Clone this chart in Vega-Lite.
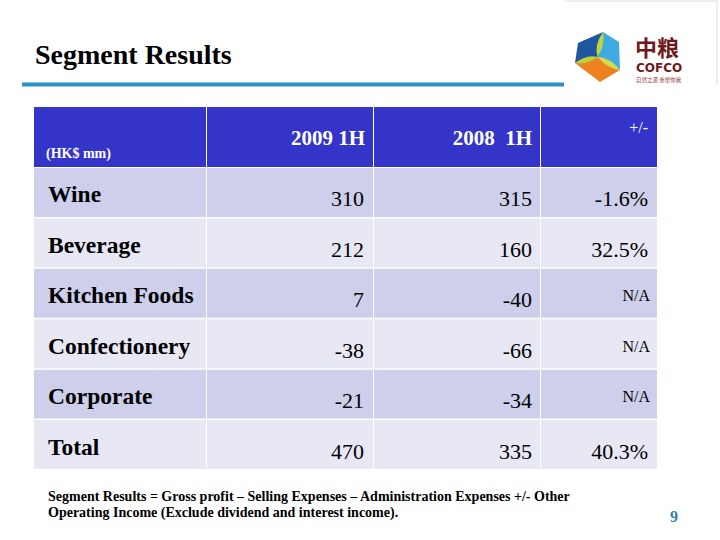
{
  "$schema": "https://vega.github.io/schema/vega-lite/v6.json",
  "background": "white",
  "padding": {"left": 20, "top": 0, "right": 0, "bottom": 0},
  "config": {
    "view": {"stroke": null},
    "font": "Liberation Serif",
    "locale": {"number": {"decimal": ".", "thousands": ",", "grouping": [3], "currency": ["$", ""], "minus": "-"}}
  },
  "datasets": {
    "segments": [
      {"segment": "Wine", "h2009": 310, "h2008": 315, "change": -0.016},
      {"segment": "Beverage", "h2009": 212, "h2008": 160, "change": 0.325},
      {"segment": "Kitchen Foods", "h2009": 7, "h2008": -40, "change": null},
      {"segment": "Confectionery", "h2009": -38, "h2008": -66, "change": null},
      {"segment": "Corporate", "h2009": -21, "h2008": -34, "change": null},
      {"segment": "Total", "h2009": 470, "h2008": 335, "change": 0.403}
    ],
    "headers": [
      {"col": "segment", "title": "(HK$ mm)"},
      {"col": "h2009", "title": "2009 1H"},
      {"col": "h2008", "title": "2008\u00a0 1H"},
      {"col": "change", "title": "+/-"}
    ],
    "slide": [
      {"title": "Segment Results", "note1": "Segment Results = Gross profit \u2013 Selling Expenses \u2013 Administration Expenses +/- Other", "note2": "Operating Income (Exclude dividend and interest income).", "page": "9"}
    ]
  },
  "spacing": 0,
  "vconcat": [
    {
      "width": 700,
      "height": 107,
      "data": {"name": "slide"},
      "layer": [
        {"mark": {"type": "text", "align": "left", "baseline": "alphabetic", "font": "Liberation Serif", "fontWeight": "bold", "fontSize": 28, "color": "#000000"},
         "encoding": {"x": {"value": 15}, "y": {"value": 64}, "text": {"field": "title"}}},
        {"mark": {"type": "rule", "color": "#2A93C1", "strokeWidth": 4},
         "encoding": {"x": {"value": 2}, "x2": {"value": 544}, "y": {"value": 84.5}}},
        {"mark": {"type": "rule", "color": "#DCDCDC", "strokeWidth": 1},
         "encoding": {"x": {"value": 545}, "x2": {"value": 697}, "y": {"value": 1}}},
        {"mark": {"type": "rule", "color": "#DCDCDC", "strokeWidth": 1},
         "encoding": {"x": {"value": 697}, "y": {"value": 1}, "y2": {"value": 85}}},
        {"mark": {"type": "point", "filled": true, "opacity": 1, "size": 2500, "strokeWidth": 0, "fill": "#1F56A2", "shape": "M0.24,-1 L-0.76,-0.56 L-0.88,0.24 L0.02,0 Z"},
         "encoding": {"x": {"value": 577}, "y": {"value": 57}}},
        {"mark": {"type": "point", "filled": true, "opacity": 1, "size": 2500, "strokeWidth": 0, "fill": "#3FAAE3", "shape": "M0.24,-1 L0.02,0 L0.92,0.52 L0.88,-0.6 Z"},
         "encoding": {"x": {"value": 577}, "y": {"value": 57}}},
        {"mark": {"type": "point", "filled": true, "opacity": 1, "size": 2500, "strokeWidth": 0, "fill": "#EE8220", "shape": "M-0.88,0.24 L0.12,1 L0.92,0.52 L0.02,0 Z"},
         "encoding": {"x": {"value": 577}, "y": {"value": 57}}},
        {"mark": {"type": "point", "filled": true, "opacity": 1, "size": 2500, "strokeWidth": 0, "fill": "#C2D63A", "shape": "M0.02,0 Q0.34,-0.5 0.24,-1 Q-0.12,-0.5 0.02,0 Z"},
         "encoding": {"x": {"value": 577}, "y": {"value": 57}}},
        {"mark": {"type": "point", "filled": true, "opacity": 1, "size": 2500, "strokeWidth": 0, "fill": "#B9D13A", "shape": "M0.02,0 Q-0.4,-0.12 -0.88,0.24 Q-0.4,0.32 0.02,0 Z"},
         "encoding": {"x": {"value": 577}, "y": {"value": 57}}},
        {"mark": {"type": "point", "filled": true, "opacity": 1, "size": 2500, "strokeWidth": 0, "fill": "#D5DC4A", "shape": "M0.02,0 Q0.52,0.02 0.92,0.52 Q0.4,0.46 0.02,0 Z"},
         "encoding": {"x": {"value": 577}, "y": {"value": 57}}},
        {"mark": {"type": "text", "text": "\u4e2d\u7cae", "align": "left", "baseline": "alphabetic", "font": "Noto Sans CJK SC", "fontWeight": "bold", "fontSize": 22, "color": "#6E1A1A"},
         "encoding": {"x": {"value": 615}, "y": {"value": 56}}},
        {"mark": {"type": "text", "text": "COFCO", "align": "left", "baseline": "alphabetic", "font": "DejaVu Sans", "fontWeight": "bold", "fontSize": 12, "color": "#6E1A1A"},
         "encoding": {"x": {"value": 616}, "y": {"value": 72}}},
        {"mark": {"type": "text", "text": "\u81ea\u7136\u4e4b\u6e90 \u91cd\u5851\u4f60\u6211", "align": "left", "baseline": "alphabetic", "font": "Noto Sans CJK SC", "fontSize": 5.5, "color": "#9A3A3A"},
         "encoding": {"x": {"value": 616}, "y": {"value": 82}}}
      ]
    },
    {
      "spacing": 1,
      "hconcat": [
        {
          "width": 13, "height": 362,
          "data": {"values": [{}]},
          "mark": {"type": "rect", "opacity": 0},
          "encoding": {"x": {"value": 0}, "x2": {"value": "width"}, "y": {"value": 0}, "y2": {"value": "height"}}
        },
        {
          "spacing": 1,
          "vconcat": [
            {
              "width": 172, "height": 60,
              "view": {"fill": "#3434C8"},
              "data": {"name": "headers"},
              "transform": [{"filter": "datum.col == 'segment'"}],
              "mark": {"type": "text", "align": "left", "baseline": "alphabetic", "font": "Liberation Serif", "fontWeight": "bold", "fontSize": 14, "color": "#FFFFFF"},
              "encoding": {"x": {"value": 12}, "y": {"value": 51}, "text": {"field": "title"}}
            },
            {
              "width": 172, "height": 301,
              "data": {"name": "segments"},
              "transform": [{"window": [{"op": "row_number", "as": "row"}]}],
              "encoding": {"y": {"field": "segment", "type": "nominal", "sort": null, "axis": null, "scale": {"paddingInner": 0.03, "paddingOuter": 0}}},
              "layer": [
                {"mark": {"type": "rect"},
                 "encoding": {"x": {"value": 0}, "x2": {"value": "width"},
                              "fill": {"condition": {"test": "datum.row % 2 == 1", "value": "#CDCFEB"}, "value": "#E8E8F5"}}},
                {"mark": {"type": "text", "align": "left", "baseline": "alphabetic", "dx": 14, "dy": 10, "font": "Liberation Serif", "fontWeight": "bold", "fontSize": 23.5, "color": "#000000"},
                 "encoding": {"x": {"value": 0}, "text": {"field": "segment", "type": "nominal"}}}
              ]
            }
          ]
        },
        {
          "spacing": 1,
          "vconcat": [
            {
              "width": 166, "height": 60,
              "view": {"fill": "#3434C8"},
              "data": {"name": "headers"},
              "transform": [{"filter": "datum.col == 'h2009'"}],
              "mark": {"type": "text", "align": "right", "baseline": "alphabetic", "dx": -8, "font": "Liberation Serif", "fontWeight": "bold", "fontSize": 21, "color": "#FFFFFF"},
              "encoding": {"x": {"value": "width"}, "y": {"value": 38}, "text": {"field": "title"}}
            },
            {
              "width": 166, "height": 301,
              "data": {"name": "segments"},
              "transform": [{"window": [{"op": "row_number", "as": "row"}]}],
              "encoding": {"y": {"field": "segment", "type": "nominal", "sort": null, "axis": null, "scale": {"paddingInner": 0.03, "paddingOuter": 0}}},
              "layer": [
                {"mark": {"type": "rect"},
                 "encoding": {"x": {"value": 0}, "x2": {"value": "width"},
                              "fill": {"condition": {"test": "datum.row % 2 == 1", "value": "#CDCFEB"}, "value": "#E8E8F5"}}},
                {"mark": {"type": "text", "align": "right", "baseline": "alphabetic", "dx": -9, "dy": 14, "font": "Liberation Serif", "fontSize": 22, "color": "#000000"},
                 "encoding": {"x": {"value": "width"}, "text": {"field": "h2009", "type": "quantitative", "format": "d"}}}
              ]
            }
          ]
        },
        {
          "spacing": 1,
          "vconcat": [
            {
              "width": 166, "height": 60,
              "view": {"fill": "#3434C8"},
              "data": {"name": "headers"},
              "transform": [{"filter": "datum.col == 'h2008'"}],
              "mark": {"type": "text", "align": "right", "baseline": "alphabetic", "dx": -8, "font": "Liberation Serif", "fontWeight": "bold", "fontSize": 21, "color": "#FFFFFF"},
              "encoding": {"x": {"value": "width"}, "y": {"value": 38}, "text": {"field": "title"}}
            },
            {
              "width": 166, "height": 301,
              "data": {"name": "segments"},
              "transform": [{"window": [{"op": "row_number", "as": "row"}]}],
              "encoding": {"y": {"field": "segment", "type": "nominal", "sort": null, "axis": null, "scale": {"paddingInner": 0.03, "paddingOuter": 0}}},
              "layer": [
                {"mark": {"type": "rect"},
                 "encoding": {"x": {"value": 0}, "x2": {"value": "width"},
                              "fill": {"condition": {"test": "datum.row % 2 == 1", "value": "#CDCFEB"}, "value": "#E8E8F5"}}},
                {"mark": {"type": "text", "align": "right", "baseline": "alphabetic", "dx": -8, "dy": 14, "font": "Liberation Serif", "fontSize": 22, "color": "#000000"},
                 "encoding": {"x": {"value": "width"}, "text": {"field": "h2008", "type": "quantitative", "format": "d"}}}
              ]
            }
          ]
        },
        {
          "spacing": 1,
          "vconcat": [
            {
              "width": 116, "height": 60,
              "view": {"fill": "#3434C8"},
              "data": {"name": "headers"},
              "transform": [{"filter": "datum.col == 'change'"}],
              "mark": {"type": "text", "align": "right", "baseline": "alphabetic", "dx": -9, "font": "Liberation Serif", "fontSize": 16, "color": "#FFFFFF"},
              "encoding": {"x": {"value": "width"}, "y": {"value": 26}, "text": {"field": "title"}}
            },
            {
              "width": 116, "height": 301,
              "data": {"name": "segments"},
              "transform": [{"window": [{"op": "row_number", "as": "row"}]}],
              "encoding": {"y": {"field": "segment", "type": "nominal", "sort": null, "axis": null, "scale": {"paddingInner": 0.03, "paddingOuter": 0}}},
              "layer": [
                {"mark": {"type": "rect"},
                 "encoding": {"x": {"value": 0}, "x2": {"value": "width"},
                              "fill": {"condition": {"test": "datum.row % 2 == 1", "value": "#CDCFEB"}, "value": "#E8E8F5"}}},
                {"transform": [{"filter": "isValid(datum.change)"}],
                 "mark": {"type": "text", "align": "right", "baseline": "alphabetic", "dx": -9, "dy": 14, "font": "Liberation Serif", "fontSize": 22, "color": "#000000"},
                 "encoding": {"x": {"value": "width"}, "text": {"field": "change", "type": "quantitative", "format": ".1%"}}},
                {"transform": [{"filter": "!isValid(datum.change)"}],
                 "mark": {"type": "text", "text": "N/A", "align": "right", "baseline": "alphabetic", "dx": -7, "dy": 8, "font": "Liberation Serif", "fontSize": 16, "color": "#000000"},
                 "encoding": {"x": {"value": "width"}}}
              ]
            }
          ]
        }
      ]
    },
    {
      "width": 700,
      "height": 71,
      "data": {"name": "slide"},
      "layer": [
        {"mark": {"type": "text", "align": "left", "baseline": "alphabetic", "font": "Liberation Serif", "fontWeight": "bold", "fontSize": 14, "color": "#000000"},
         "encoding": {"x": {"value": 28}, "y": {"value": 32}, "text": {"field": "note1"}}},
        {"mark": {"type": "text", "align": "left", "baseline": "alphabetic", "font": "Liberation Serif", "fontWeight": "bold", "fontSize": 14, "color": "#000000"},
         "encoding": {"x": {"value": 28}, "y": {"value": 48}, "text": {"field": "note2"}}},
        {"mark": {"type": "text", "align": "center", "baseline": "alphabetic", "font": "Liberation Serif", "fontWeight": "bold", "fontSize": 16, "color": "#3A7FA3"},
         "encoding": {"x": {"value": 654}, "y": {"value": 53}, "text": {"field": "page"}}}
      ]
    }
  ]
}
